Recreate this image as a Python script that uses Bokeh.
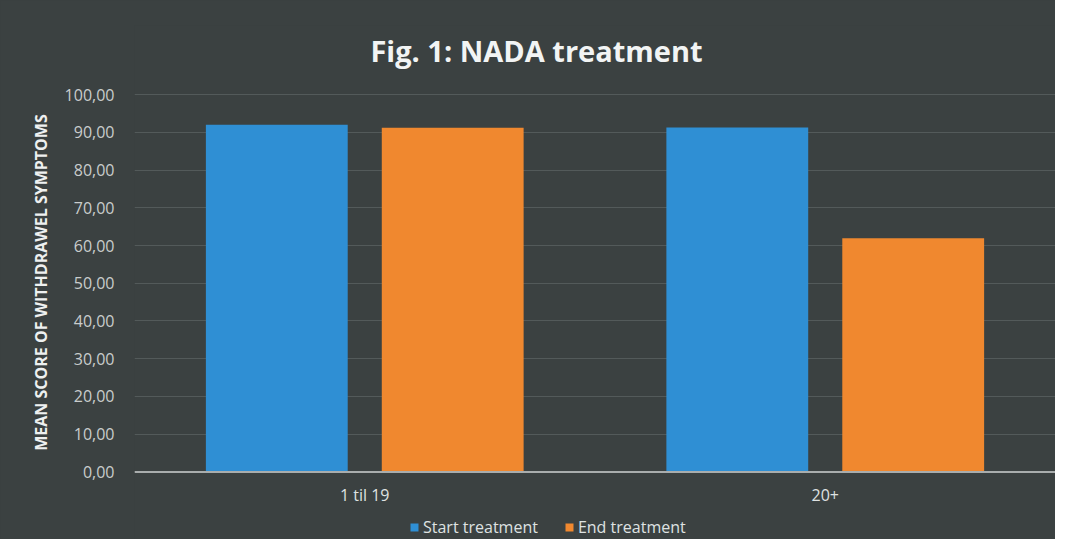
from bokeh.plotting import figure
from bokeh.models import (ColumnDataSource, FactorRange, Range1d, Label, Legend, LegendItem,
                          CustomJSTickFormatter, FixedTicker, Span)
from bokeh.core.properties import value
from bokeh.transform import dodge
from bokeh.embed import file_html
from bokeh.resources import INLINE

categories = ["1 til 19", "20+"]
start_treatment = [92.0, 91.3]
end_treatment = [91.2, 61.9]
series_names = ["Start treatment", "End treatment"]
y_ticks = [0, 10, 20, 30, 40, 50, 60, 70, 80, 90, 100]

BG = "#3b4141"
FONT = "Open Sans"

src = ColumnDataSource(dict(cat=categories, start=start_treatment, end=end_treatment,
                            base=[0] * len(categories)))

# frame spans from the title area down to the legend; values 0..100 sit in between
p = figure(width=1055, height=539, output_backend="svg", toolbar_location=None,
           x_range=FactorRange(*categories, range_padding=0.0),
           y_range=Range1d(-17.9, 118.3),
           x_axis_location=None,
           min_border_left=134, min_border_right=0, min_border_top=25, min_border_bottom=0,
           background_fill_color=BG, border_fill_color=BG, outline_line_color=None)
p.stylesheets = [":host { background-color: %s; }" % BG]

r1 = p.vbar(x=dodge("cat", -0.191, range=p.x_range), top="start", width=0.308, source=src,
            fill_color="#2f8fd4", line_color=None)
r2 = p.vbar(x=dodge("cat", 0.191, range=p.x_range), top="end", width=0.308, source=src,
            fill_color="#f0882f", line_color=None)

# y axis
p.yaxis.ticker = FixedTicker(ticks=y_ticks)
p.yaxis.formatter = CustomJSTickFormatter(code="return tick.toFixed(2).replace('.', ',');")
p.yaxis.axis_line_color = None
p.yaxis.major_tick_line_color = None
p.yaxis.minor_tick_line_color = None
p.yaxis.major_label_text_color = "#c9cccc"
p.yaxis.major_label_text_font = FONT
p.yaxis.major_label_text_font_size = "16px"
p.yaxis.major_label_standoff = 14
p.yaxis.axis_label = "MEAN SCORE OF WITHDRAWEL SYMPTOMS"
p.yaxis.axis_label_text_font = FONT
p.yaxis.axis_label_text_font_style = "bold"
p.yaxis.axis_label_text_font_size = "16px"
p.yaxis.axis_label_text_color = "#eef0f0"
p.yaxis.axis_label_standoff = 10

p.xgrid.grid_line_color = None
p.ygrid.grid_line_color = "#535a5a"
p.ygrid.grid_line_width = 1

# category axis: baseline line + category labels under it
p.add_layout(Span(location=0, dimension="width", line_color="#a9adad", line_width=2))
p.text(x="cat", y="base", text="cat", source=src, y_offset=23,
       text_align="center", text_baseline="middle", text_font=value(FONT),
       text_font_size="16px", text_color="#dfe2e2")

# Title
title = Label(x=402, y=489, x_units="screen", y_units="screen", text="Fig. 1: NADA treatment",
              text_align="center", text_baseline="middle", text_font=FONT,
              text_font_style="bold", text_font_size="29px", text_color="#f2f4f4")
p.add_layout(title)

legend = Legend(items=[LegendItem(label=series_names[0], renderers=[r1]),
                       LegendItem(label=series_names[1], renderers=[r2])],
                orientation="horizontal", location=(275, 1),
                background_fill_alpha=0, border_line_color=None,
                label_text_color="#dfe2e2", label_text_font=FONT, label_text_font_size="16px",
                glyph_width=10, glyph_height=10, spacing=26, label_standoff=4,
                padding=2, margin=0)
p.add_layout(legend)

open("out.html", "w").write(file_html(p, INLINE))
